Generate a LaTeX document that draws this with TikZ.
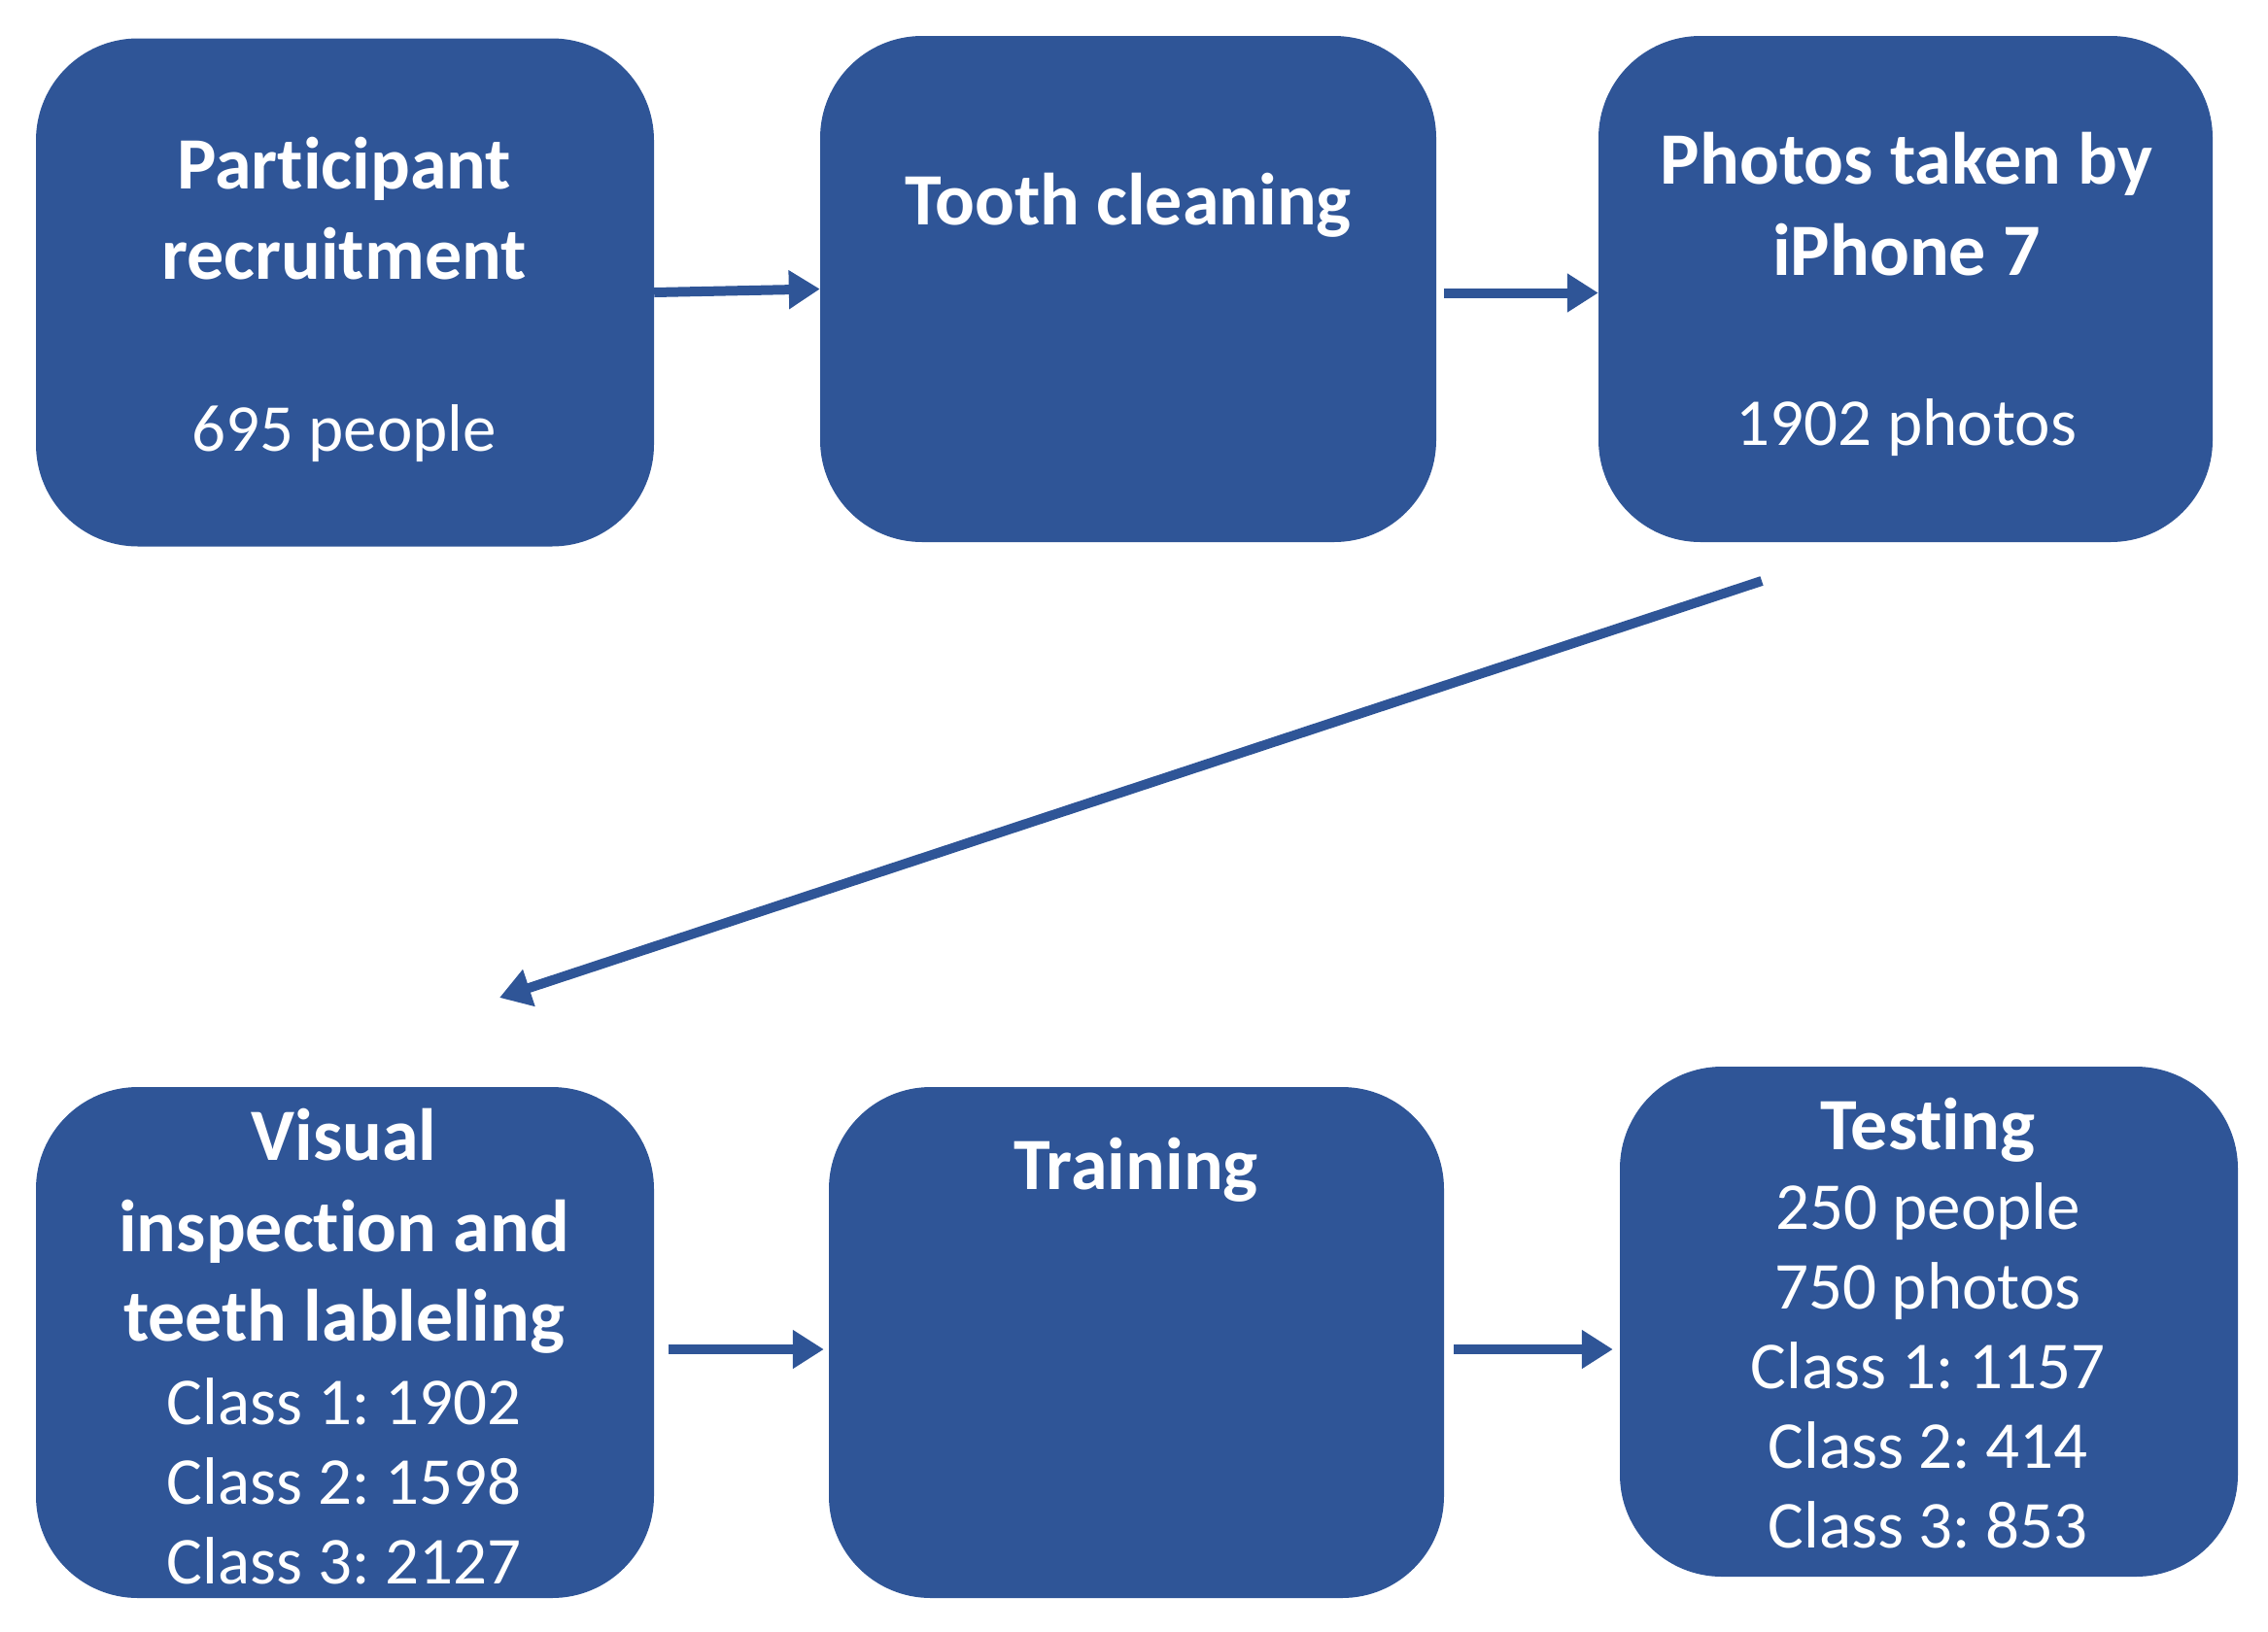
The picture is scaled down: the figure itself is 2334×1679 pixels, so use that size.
\documentclass[tikz,border=0pt]{standalone}
\usepackage{fontspec}
\setmainfont{Carlito}[Ligatures=NoCommon]
\usetikzlibrary{arrows.meta}
\definecolor{boxblue}{HTML}{2F5597}
\frenchspacing
\tikzset{
  stagebox/.style={draw=none, fill=boxblue, rounded corners=105pt, inner sep=0pt},
  bigtxt/.style={text=white, anchor=base, inner sep=0pt, font=\fontsize{76}{93}\selectfont\bfseries},
  smalltxt/.style={text=white, anchor=base, inner sep=0pt, font=\fontsize{69}{82}\selectfont},
  flowarrow/.style={draw=boxblue, line width=10pt, -{Triangle[length=32pt,width=38pt]}}
}
\begin{document}
\begin{tikzpicture}[x=1pt,y=-1pt]
\useasboundingbox (0,0) rectangle (2334,1679);
% boxes
\node[stagebox, minimum width=636pt, minimum height=523pt] (b1) at (355,301) {};
\node[stagebox, minimum width=634pt, minimum height=521pt] (b2) at (1161,297.5) {};
\node[stagebox, minimum width=632pt, minimum height=521pt] (b3) at (1961,297.5) {};
\node[stagebox, minimum width=636pt, minimum height=526pt] (b4) at (355,1382) {};
\node[stagebox, minimum width=633pt, minimum height=526pt] (b5) at (1169.5,1382) {};
\node[stagebox, minimum width=636pt, minimum height=525pt] (b6) at (1985,1360.5) {};
% texts box 1
\node[bigtxt] (t1a) at (354,194) {Participant};
\node[bigtxt] (t1b) at (354,287) {recruitment};
\node[smalltxt] (t1c) at (354,464) {695 people};
% box 2
\node[bigtxt] (t2a) at (1161,231) {Tooth cleaning};
% box 3
\node[bigtxt] (t3a) at (1962,189) {Photos taken by};
\node[bigtxt] (t3b) at (1962,283) {iPhone 7};
\node[smalltxt] (t3c) at (1962,458) {1902 photos};
% box 4
\node[bigtxt] (t4a) at (354,1194) {Visual};
\node[bigtxt] (t4b) at (354,1288) {inspection and};
\node[bigtxt] (t4c) at (354,1380) {teeth lableling};
\node[smalltxt] (t4d) at (354,1466) {Class 1: 1902};
\node[smalltxt] (t4e) at (354,1548) {Class 2: 1598};
\node[smalltxt] (t4f) at (354,1630) {Class 3: 2127};
% box 5
\node[bigtxt] (t5a) at (1169,1224) {Training};
% box 6
\node[bigtxt] (t6a) at (1984,1183) {Testing};
\node[smalltxt] (t6b) at (1984,1265) {250 people};
\node[smalltxt] (t6c) at (1984,1347) {750 photos};
\node[smalltxt] (t6d) at (1984,1429) {Class 1: 1157};
\node[smalltxt] (t6e) at (1984,1511) {Class 2: 414};
\node[smalltxt] (t6f) at (1984,1593) {Class 3: 853};
% arrows
\draw[flowarrow] (b1.east) -- (b2.west);
\draw[flowarrow, shorten <=8pt] ([yshift=-4pt]b2.east) -- ([yshift=-4pt]b3.west);
\coordinate (d1) at (1813,598);
\coordinate (d2) at (514,1027);
\draw[flowarrow] (d1) -- (d2);
\draw[flowarrow, shorten <=15pt, shorten >=5pt] ([yshift=-7pt]b4.east) -- ([yshift=-7pt]b5.west);
\draw[flowarrow, shorten <=10pt, shorten >=7pt] ([yshift=-7pt]b5.east) -- ([yshift=-7pt]b5.east -| b6.west);
\end{tikzpicture}
\end{document}
